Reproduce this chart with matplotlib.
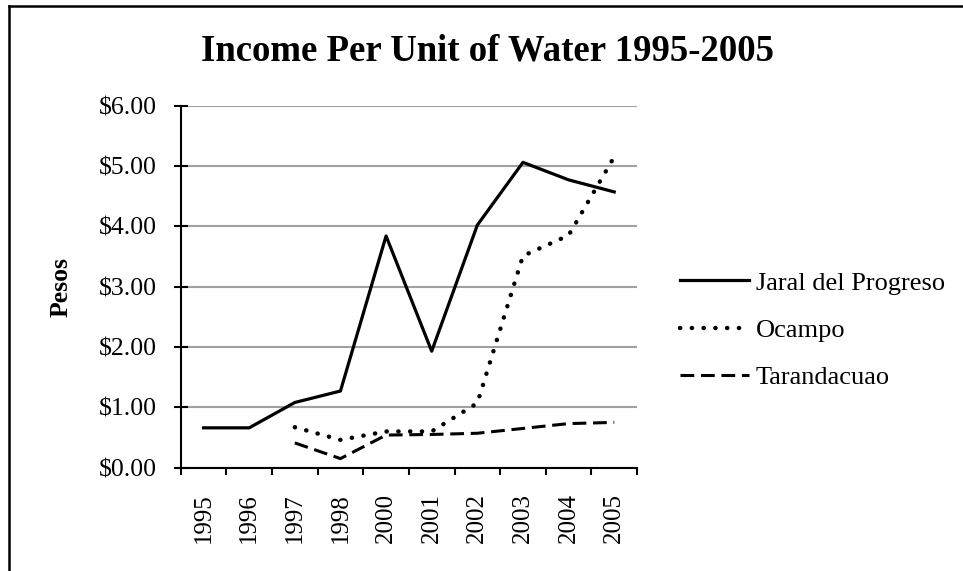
import matplotlib
matplotlib.use('Agg')
import matplotlib.pyplot as plt
from matplotlib.lines import Line2D

years = ['1995', '1996', '1997', '1998', '2000', '2001', '2002', '2003', '2004', '2005']
jaral = [0.66, 0.66, 1.08, 1.27, 3.84, 1.93, 4.02, 5.06, 4.77, 4.57]
ocampo = [None, None, 0.67, 0.46, 0.60, 0.60, 1.07, 3.51, 3.85, 5.15]
taranda = [None, None, 0.41, 0.15, 0.54, 0.55, 0.57, 0.65, 0.73, 0.75]
yticks = [0, 1, 2, 3, 4, 5, 6]

plt.rcParams['font.family'] = ['Liberation Serif', 'DejaVu Serif']

fig = plt.figure(figsize=(9.63, 5.71), dpi=100)
ax = fig.add_axes([0.1877, 0.181, 0.4738, 0.634])

x = list(range(len(years)))
xo = [i for i, v in zip(x, ocampo) if v is not None]
yo = [v for v in ocampo if v is not None]
xt = [i for i, v in zip(x, taranda) if v is not None]
yt = [v for v in taranda if v is not None]

ax.plot(x, jaral, color='black', lw=2.3, label='Jaral del Progreso', zorder=3)
ax.plot(xo, yo, color='black', lw=3.2, linestyle=(0, (0.05, 2.6)),
        dash_capstyle='round', label='Ocampo', zorder=3)
ax.plot(xt, yt, color='black', lw=2.2, linestyle=(0, (4.5, 2.2)),
        label='Tarandacuao', zorder=3)

ax.set_xlim(-0.5, len(years) - 0.5)
ax.set_ylim(0, 6)
ax.set_yticks(yticks)
ax.set_yticklabels(['$%.2f' % v for v in yticks], fontsize=18.5)
# ticks between categories, labels centred on them
ax.set_xticks([i - 0.5 for i in range(len(years) + 1)])
ax.set_xticklabels([])
ax.set_xticks(x, minor=True)
ax.set_xticklabels(years, minor=True, rotation=90, fontsize=18)
ax.tick_params(axis='x', which='minor', length=0, pad=18.5)
ax.tick_params(axis='x', which='major', length=5, width=1.5, direction='out')
ax.tick_params(axis='y', length=10, width=1.5, direction='inout', pad=12)
ax.yaxis.grid(True, color='#a0a0a0', lw=1.5)
ax.set_axisbelow(True)
for s in ['top', 'right']:
    ax.spines[s].set_visible(False)
for s in ['left', 'bottom']:
    ax.spines[s].set_linewidth(1.5)
ax.set_ylabel('Pesos', fontsize=18.5, fontweight='bold')
ax.yaxis.set_label_coords(-0.238, 0.5)

fig.text(0.506, 0.911, 'Income Per Unit of Water 1995-2005', ha='center', va='center',
         fontsize=26.5, fontweight='bold')

ax.legend(loc='center left', bbox_to_anchor=(1.094, 0.38), frameon=False, fontsize=19,
          handlelength=2.6, handletextpad=0.27, labelspacing=0.9,
          borderpad=0, borderaxespad=0)

# border on top and left edge, as in the cropped original
fig.add_artist(Line2D([0.009, 1.0], [0.99, 0.99], color='black', lw=1.8))
fig.add_artist(Line2D([0.009, 0.009], [0.0, 0.99], color='black', lw=1.8))

plt.savefig('out.png', dpi=100)
